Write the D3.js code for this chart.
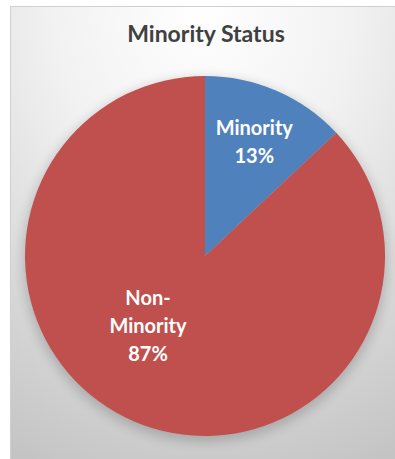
<!DOCTYPE html>
<html>
<head>
<meta charset="utf-8">
<script src="https://cdn.jsdelivr.net/npm/d3@7"></script>
<style>
 body { margin: 0; background: #fff; }
 svg { display: block; }
</style>
</head>
<body>
<svg width="395" height="459"></svg>
<script>
// The svg
var svg = d3.select("svg"),
    width = +svg.attr("width"),
    height = +svg.attr("height");

// Data
var categories = ["Minority", "Non-Minority"];
var shares = [13, 87];
var labelLines = [["Minority", "13%"], ["Non-", "Minority", "87%"]];
var colors = ["#4f81bd", "#c0504d"];

// Background gradient + shadow
var defs = svg.append("defs");
var bg = defs.append("radialGradient")
    .attr("id", "bg")
    .attr("cx", "50%").attr("cy", "0%").attr("r", "110%");
bg.append("stop").attr("offset", "0%").attr("stop-color", "#ffffff");
bg.append("stop").attr("offset", "35%").attr("stop-color", "#f2f2f2");
bg.append("stop").attr("offset", "100%").attr("stop-color", "#c4c4c4");

var blur = defs.append("filter").attr("id", "shadow")
    .attr("x", "-20%").attr("y", "-20%").attr("width", "140%").attr("height", "140%");
blur.append("feGaussianBlur").attr("stdDeviation", 6);

svg.append("rect")
    .attr("x", 10.5).attr("y", 6.5)
    .attr("width", width - 10).attr("height", height - 6)
    .attr("fill", "url(#bg)")
    .attr("stroke", "#d0d0d0");

// Title
svg.append("text")
    .attr("x", 206).attr("y", 42)
    .attr("text-anchor", "middle")
    .attr("font-family", "Lato, 'Open Sans', sans-serif")
    .attr("font-weight", "bold")
    .attr("font-size", 23)
    .attr("fill", "#404040")
    .text("Minority Status");

// Pie
var cx = 205, cy = 256, radius = 180;
var g = svg.append("g").attr("transform", "translate(" + cx + "," + cy + ")");

g.append("circle")
    .attr("cx", 0).attr("cy", 4).attr("r", radius + 2)
    .attr("fill", "#000").attr("opacity", 0.18)
    .attr("filter", "url(#shadow)");

var pie = d3.pie().sort(null).value(function (d) { return d; });
var arc = d3.arc().innerRadius(0).outerRadius(radius);
var arcs = pie(shares);

g.selectAll("path.slice")
    .data(arcs)
    .enter().append("path")
    .attr("class", "slice")
    .attr("d", arc)
    .attr("fill", function (d, i) { return colors[i]; });

// Labels (Excel "best fit" style placement)
function labelPos(d, i) {
    if (i === 0) {
        var a = d3.arc().innerRadius(radius * 0.69).outerRadius(radius * 0.69);
        return a.centroid(d);
    }
    return [-57, 70];
}
var lineH = 28;
g.selectAll("text.lbl")
    .data(arcs)
    .enter().append("text")
    .attr("class", "lbl")
    .attr("text-anchor", "middle")
    .attr("font-family", "Lato, 'Open Sans', sans-serif")
    .attr("font-weight", "bold")
    .attr("font-size", 20)
    .attr("fill", "#ffffff")
    .each(function (d, i) {
        var c = labelPos(d, i);
        var lines = labelLines[i];
        var y0 = c[1] - (lines.length - 1) * lineH / 2 + 7;
        var t = d3.select(this);
        lines.forEach(function (s, k) {
            t.append("tspan").attr("x", c[0]).attr("y", y0 + k * lineH).text(s);
        });
    });
</script>
</body>
</html>
